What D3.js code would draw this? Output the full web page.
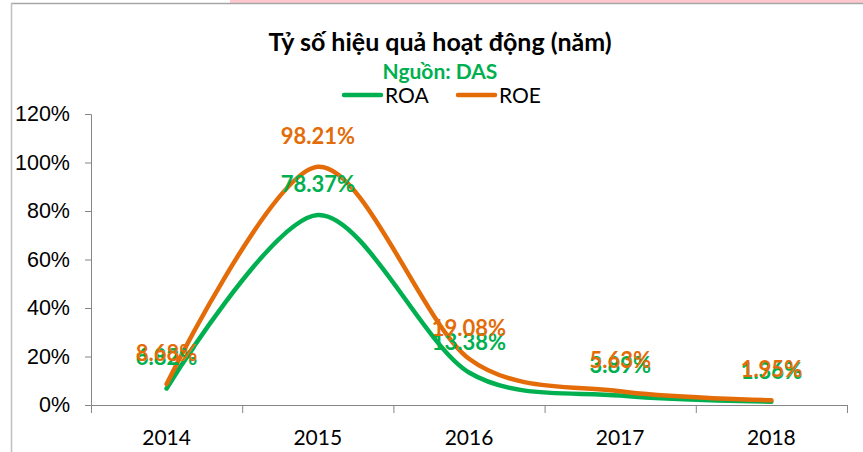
<!DOCTYPE html>
<html>
<head>
<meta charset="utf-8">
<script src="https://cdn.jsdelivr.net/npm/d3@7"></script>
<style>
  body { margin: 0; background: #fff; }
  svg { font-family: Lato, "Open Sans", sans-serif; }
</style>
</head>
<body>
<div id="chart"></div>
<script>
var years = ["2014", "2015", "2016", "2017", "2018"];
var roa = [6.82, 78.37, 13.38, 3.89, 1.36];
var roe = [8.68, 98.21, 19.08, 5.63, 1.95];
var yTicks = [0, 20, 40, 60, 80, 100, 120];

var width = 863;
var height = 452;
var green = "#00b050";
var orange = "#e36c09";
var axisColor = "#868686";

var svg = d3.select("#chart")
  .append("svg")
  .attr("width", width)
  .attr("height", height);

// frame bits at the top / left edge
svg.append("rect")
  .attr("x", 230).attr("y", 0)
  .attr("width", width - 230).attr("height", 3)
  .attr("fill", "#ffc7ce");
svg.append("line")
  .attr("x1", 11).attr("x2", width)
  .attr("y1", 3.5).attr("y2", 3.5)
  .attr("stroke", "#a6a6a6").attr("stroke-width", 1.5);
svg.append("line")
  .attr("x1", 11.5).attr("x2", 11.5)
  .attr("y1", 3).attr("y2", height)
  .attr("stroke", "#bfbfbf").attr("stroke-width", 1.5);

var x = d3.scaleBand()
  .domain(years)
  .range([91, 847])
  .padding(0);

var y = d3.scaleLinear()
  .domain([0, 120])
  .range([405, 114]);

var cx = d => x(d) + x.bandwidth() / 2;

// y axis
var yAxis = svg.append("g")
  .attr("transform", "translate(91,0)")
  .call(d3.axisLeft(y).tickValues(yTicks).tickSize(6).tickPadding(15).tickFormat(d => d + "%"));
yAxis.select(".domain").attr("stroke", axisColor).attr("d", "M-6,114.5H0.5V413");
yAxis.selectAll(".tick line").attr("stroke", axisColor);
yAxis.selectAll(".tick text")
  .attr("fill", "#000")
  .style("font-size", "21.5px")
  .attr("font-family", null);

// x axis: line + boundary ticks
svg.append("line")
  .attr("x1", 91).attr("x2", 847)
  .attr("y1", 405.5).attr("y2", 405.5)
  .attr("stroke", axisColor);
svg.selectAll("xtick")
  .data(years.concat(["end"]))
  .enter()
  .append("line")
  .attr("x1", (d, i) => 91.5 + i * x.bandwidth())
  .attr("x2", (d, i) => 91.5 + i * x.bandwidth())
  .attr("y1", 405).attr("y2", 413)
  .attr("stroke", axisColor);
svg.selectAll("xlabel")
  .data(years)
  .enter()
  .append("text")
  .attr("x", d => cx(d))
  .attr("y", 445)
  .attr("text-anchor", "middle")
  .style("font-size", "21px")
  .text(d => d);

// lines
var line = d3.line()
  .x((d, i) => cx(years[i]))
  .y(d => y(d))
  .curve(d3.curveCardinal.tension(0.1));

var series = [
  { name: "ROA", values: roa, color: green },
  { name: "ROE", values: roe, color: orange }
];

series.forEach(function (s) {
  svg.append("path")
    .attr("d", line(s.values))
    .attr("fill", "none")
    .attr("stroke", s.color)
    .attr("stroke-width", 4.5)
    .attr("stroke-linecap", "round");
});

// data labels (drawn after lines so they sit on top)
series.forEach(function (s) {
  svg.selectAll("lbl")
    .data(s.values)
    .enter()
    .append("text")
    .attr("x", (d, i) => cx(years[i]))
    .attr("y", d => y(d) - 23)
    .attr("text-anchor", "middle")
    .attr("fill", s.color)
    .style("font-size", "22px")
    .style("font-weight", "bold")
    .text(d => d.toFixed(2) + "%");
});

// title, source, legend
svg.append("text")
  .attr("x", 440).attr("y", 51)
  .attr("text-anchor", "middle")
  .style("font-size", "25px")
  .style("font-weight", "bold")
  .text("Tỷ số hiệu quả hoạt động (năm)");
svg.append("text")
  .attr("x", 440).attr("y", 79)
  .attr("text-anchor", "middle")
  .attr("fill", green)
  .style("font-size", "21px")
  .style("font-weight", "bold")
  .text("Nguồn: DAS");

var legend = svg.selectAll("legend")
  .data(series)
  .enter()
  .append("g")
  .attr("transform", (d, i) => "translate(" + (344 + i * 114) + ",95)");
legend.append("line")
  .attr("x1", 0).attr("x2", 37)
  .attr("stroke", d => d.color)
  .attr("stroke-width", 4.5)
  .attr("stroke-linecap", "round");
legend.append("text")
  .attr("x", 41).attr("y", 8)
  .style("font-size", "21px")
  .text(d => d.name);
</script>
</body>
</html>
